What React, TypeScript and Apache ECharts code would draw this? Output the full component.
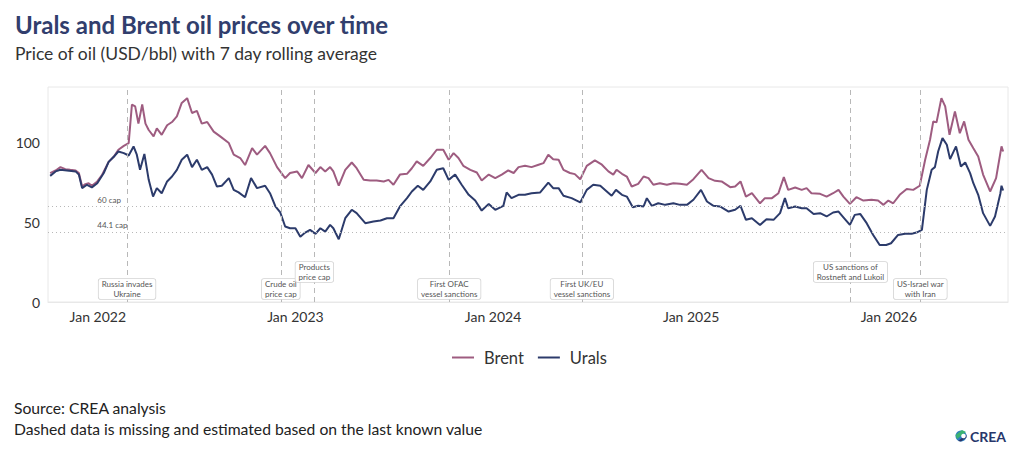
import React, { useEffect, useRef } from "react";
import * as echarts from "echarts";

const FONT = 'Lato, "Noto Sans", sans-serif';

const TITLE = "Urals and Brent oil prices over time";
const SUBTITLE = "Price of oil (USD/bbl) with 7 day rolling average";
const SOURCE = "Source: CREA analysis";
const NOTE = "Dashed data is missing and estimated based on the last known value";

const seriesNames = ["Brent", "Urals"];
const seriesColors = ["#9e5c80", "#2c3b6b"];

const brentDates = [
  "2021-10-05","2021-10-15","2021-10-24","2021-11-02","2021-11-11","2021-11-21","2021-11-27","2021-12-03","2021-12-09","2021-12-15",
  "2021-12-21","2021-12-31","2022-01-09","2022-01-21","2022-01-30","2022-02-08","2022-02-18","2022-02-27","2022-03-05","2022-03-11",
  "2022-03-17","2022-03-24","2022-03-30","2022-04-05","2022-04-14","2022-04-20","2022-04-29","2022-05-09","2022-05-18","2022-05-27",
  "2022-06-05","2022-06-15","2022-06-24","2022-07-03","2022-07-12","2022-07-22","2022-08-03","2022-08-15","2022-08-31","2022-09-09",
  "2022-09-21","2022-09-30","2022-10-13","2022-10-22","2022-11-06","2022-11-15","2022-11-28","2022-12-13","2022-12-22","2023-01-04",
  "2023-01-13","2023-01-25","2023-02-07","2023-02-16","2023-02-25","2023-03-06","2023-03-12","2023-03-22","2023-04-03","2023-04-15",
  "2023-04-24","2023-05-07","2023-05-19","2023-05-31","2023-06-13","2023-06-22","2023-07-01","2023-07-13","2023-07-26","2023-08-04",
  "2023-08-13","2023-08-25","2023-09-07","2023-09-19","2023-10-01","2023-10-11","2023-10-20","2023-10-29","2023-11-07","2023-11-20",
  "2023-12-02","2023-12-11","2023-12-24","2024-01-05","2024-01-17","2024-01-29","2024-02-08","2024-02-17","2024-02-29","2024-03-12",
  "2024-03-25","2024-04-03","2024-04-12","2024-04-21","2024-05-01","2024-05-10","2024-05-22","2024-05-31","2024-06-10","2024-06-22",
  "2024-07-07","2024-07-20","2024-08-01","2024-08-10","2024-08-16","2024-08-26","2024-09-04","2024-09-13","2024-09-25","2024-10-05",
  "2024-10-14","2024-10-23","2024-11-04","2024-11-17","2024-11-29","2024-12-11","2024-12-24","2025-01-05","2025-01-20","2025-02-02",
  "2025-02-14","2025-02-26","2025-03-14","2025-03-23","2025-04-02","2025-04-12","2025-04-23","2025-05-08","2025-05-17","2025-05-30",
  "2025-06-11","2025-06-21","2025-06-29","2025-07-12","2025-07-24","2025-08-02","2025-08-11","2025-08-27","2025-09-08","2025-09-20",
  "2025-09-30","2025-10-09","2025-10-21","2025-11-02","2025-11-15","2025-11-30","2025-12-12","2025-12-22","2025-12-31","2026-01-09",
  "2026-01-21","2026-02-03","2026-02-15","2026-02-27","2026-03-09","2026-03-18","2026-03-24","2026-03-30","2026-04-08","2026-04-15",
  "2026-04-23","2026-05-03","2026-05-12","2026-05-20","2026-05-28","2026-06-06","2026-06-15","2026-06-24","2026-07-07","2026-07-18",
  "2026-07-28","2026-07-31"
];
const brentValues = [
  80.9,82.6,84.7,83.4,83.0,82.6,81.0,72.5,74.0,74.6,
  73.0,75.7,79.9,88.0,91.0,95.6,98.0,99.8,124.0,122.8,
  112.0,124.0,112.0,108.0,104.0,109.0,105.0,111.0,113.0,116.6,
  125.0,128.0,118.7,120.0,112.0,113.0,107.0,104.0,99.8,92.5,
  90.4,86.0,96.6,92.5,98.0,93.5,84.7,77.8,81.0,82.0,
  77.8,86.0,81.0,84.7,82.0,84.7,82.0,73.0,83.0,87.6,
  84.0,76.7,76.3,76.3,75.7,76.7,73.6,80.0,80.5,84.0,
  88.3,85.5,90.4,95.6,95.6,89.3,93.5,90.4,85.5,83.0,
  81.3,76.3,80.0,77.8,80.0,82.6,81.0,84.7,85.5,84.7,
  86.2,87.2,92.5,89.7,89.3,83.0,81.0,80.3,77.1,85.5,
  88.9,86.2,82.0,80.0,83.0,80.5,78.8,72.5,74.2,78.8,
  77.8,73.6,74.6,73.6,74.6,74.2,73.6,77.1,83.0,77.8,
  76.1,75.7,72.1,72.5,75.7,66.2,68.3,62.0,65.2,65.2,
  68.3,78.4,70.4,71.9,70.4,71.5,68.3,67.9,66.2,68.3,
  70.4,66.2,61.6,65.8,63.7,64.2,63.7,61.0,63.7,62.0,
  67.3,70.9,70.4,73.0,89.3,101.9,113.4,112.8,128.0,122.8,
  105.0,119.7,106.0,113.4,101.9,96.6,91.4,80.0,69.4,77.8,
  97.7,94.5
];

const uralsDates = [
  "2021-10-05","2021-10-15","2021-10-24","2021-11-05","2021-11-21","2021-11-27","2021-12-03","2021-12-12","2021-12-21","2021-12-31",
  "2022-01-12","2022-01-21","2022-01-30","2022-02-08","2022-02-18","2022-02-27","2022-03-08","2022-03-14","2022-03-20","2022-03-28",
  "2022-04-05","2022-04-13","2022-04-20","2022-04-29","2022-05-09","2022-05-18","2022-05-27","2022-06-05","2022-06-15","2022-06-24",
  "2022-07-03","2022-07-12","2022-07-22","2022-07-31","2022-08-09","2022-08-18","2022-08-31","2022-09-09","2022-09-18","2022-09-30",
  "2022-10-11","2022-10-22","2022-11-06","2022-11-15","2022-11-25","2022-12-04","2022-12-13","2022-12-22","2023-01-01","2023-01-10",
  "2023-01-19","2023-01-28","2023-02-07","2023-02-16","2023-02-25","2023-03-06","2023-03-12","2023-03-22","2023-04-03","2023-04-15",
  "2023-04-24","2023-05-10","2023-05-25","2023-06-07","2023-06-19","2023-07-01","2023-07-13","2023-07-26","2023-08-04","2023-08-15",
  "2023-08-25","2023-09-07","2023-09-19","2023-10-01","2023-10-11","2023-10-23","2023-11-04","2023-11-17","2023-11-29","2023-12-11",
  "2023-12-24","2024-01-05","2024-01-20","2024-01-26","2024-02-04","2024-02-17","2024-02-29","2024-03-12","2024-03-28","2024-04-12",
  "2024-04-21","2024-05-01","2024-05-10","2024-05-25","2024-06-10","2024-06-22","2024-07-04","2024-07-17","2024-07-29","2024-08-07",
  "2024-08-15","2024-08-26","2024-09-04","2024-09-15","2024-09-25","2024-10-05","2024-10-11","2024-10-20","2024-11-01","2024-11-14",
  "2024-11-29","2024-12-11","2024-12-24","2025-01-05","2025-01-19","2025-01-30","2025-02-11","2025-02-23","2025-03-11","2025-03-23",
  "2025-04-02","2025-04-12","2025-04-23","2025-05-08","2025-05-20","2025-06-02","2025-06-14","2025-06-23","2025-06-29","2025-07-12",
  "2025-07-24","2025-08-02","2025-08-15","2025-08-27","2025-09-08","2025-09-20","2025-09-30","2025-10-09","2025-10-21","2025-10-30",
  "2025-11-09","2025-11-21","2025-12-03","2025-12-15","2025-12-27","2026-01-05","2026-01-18","2026-01-31","2026-02-12","2026-02-21",
  "2026-03-03","2026-03-12","2026-03-21","2026-03-27","2026-04-02","2026-04-10","2026-04-18","2026-04-24","2026-05-05","2026-05-14",
  "2026-05-22","2026-05-31","2026-06-06","2026-06-15","2026-06-24","2026-07-07","2026-07-16","2026-07-26","2026-07-28","2026-07-31"
];
const uralsValues = [
  79.2,82.0,83.0,82.6,82.0,80.0,71.5,73.6,72.0,74.6,
  81.0,88.0,91.0,94.5,93.5,92.0,97.7,92.5,83.0,93.0,
  76.7,66.2,71.5,68.3,75.7,78.8,83.0,89.3,92.5,84.7,
  89.3,83.0,84.7,80.0,72.5,73.0,77.8,70.4,68.8,65.8,
  77.8,71.5,73.0,68.3,60.0,56.2,47.4,46.3,46.3,41.0,
  43.6,45.3,42.8,46.3,44.2,48.4,46.3,39.4,52.6,57.9,
  55.8,49.5,50.5,51.2,52.6,52.6,60.0,65.2,69.4,73.0,
  70.4,75.7,83.0,84.0,76.7,80.0,73.6,67.3,63.7,57.4,
  61.6,57.9,60.4,68.8,65.2,67.3,67.3,68.3,68.8,75.0,
  71.5,71.5,66.7,65.2,62.5,70.4,73.6,73.0,69.4,66.7,
  70.4,67.3,66.2,59.5,60.4,60.0,65.2,60.4,62.0,61.0,
  62.0,61.0,61.0,64.2,70.4,63.1,60.4,60.0,56.8,57.9,
  60.4,51.6,52.6,48.4,52.0,51.6,55.8,65.2,58.9,60.0,
  58.9,58.9,55.3,55.8,53.7,56.2,56.8,53.2,48.4,54.7,
  55.3,49.5,42.1,35.8,35.8,36.9,42.1,42.8,42.8,43.6,
  45.3,70.4,83.0,84.7,94.5,102.9,98.7,89.7,97.7,85.1,
  87.6,80.9,74.6,67.3,55.8,47.8,53.7,68.3,73.0,70.0
];

const eventDates = ["2022-02-24","2022-12-05","2023-02-05","2023-10-12","2024-06-13","2025-10-22","2026-02-28"];
const eventLabels = [
  "Russia invades\nUkraine",
  "Crude oil\nprice cap",
  "Products\nprice cap",
  "First OFAC\nvessel sanctions",
  "First UK/EU\nvessel sanctions",
  "US sanctions of\nRostneft and Lukoil",
  "US-Israel war\nwith Iran"
];
// vertical slot of each label box (value on the y scale)
const eventLabelLevels = [8.2, 8.2, 18.8, 8.2, 8.2, 18.8, 8.2];

const capValues = [60, 44.1];
const capLabels = ["60 cap", "44.1 cap"];
const capLabelDate = "2022-01-01";

const xMin = "2021-10-01";
const xMax = "2026-08-09";
const yMin = 0;
const yMax = 135;
const yInterval = 50;

const YEAR_MS = 365 * 24 * 3600 * 1000;

export default function App() {
  const ref = useRef<HTMLDivElement>(null);

  useEffect(() => {
    if (!ref.current) return;
    const chart = echarts.init(ref.current, null, { renderer: "svg" });

    const brentData = brentDates.map((d, i) => [d, brentValues[i]]);
    const uralsData = uralsDates.map((d, i) => [d, uralsValues[i]]);

    const option: any = {
      animation: false,
      backgroundColor: "#ffffff",
      textStyle: { fontFamily: FONT },
      grid: {
        left: 48,
        right: 16,
        top: 87,
        bottom: 153,
        show: true,
        borderColor: "#e8e8e8",
        borderWidth: 1,
        backgroundColor: "transparent",
      },
      legend: {
        left: 447,
        top: 344,
        icon: "rect",
        itemWidth: 22,
        itemHeight: 2,
        itemGap: 14,
        data: seriesNames,
        textStyle: { fontSize: 16.5, color: "#333", fontFamily: FONT, padding: [0, 0, 0, 5] },
      },
      xAxis: {
        type: "time",
        min: xMin,
        max: xMax,
        minInterval: YEAR_MS,
        maxInterval: YEAR_MS,
        axisLine: { show: true, lineStyle: { color: "#e8e8e8" } },
        axisTick: { show: false },
        splitLine: { show: false },
        axisLabel: {
          fontSize: 14,
          color: "#333",
          fontFamily: FONT,
          margin: 7,
          formatter: (v: number) => {
            const d = new Date(v);
            return d.getMonth() === 0 && d.getDate() === 1 ? "Jan " + d.getFullYear() : "";
          },
        },
      },
      yAxis: {
        type: "value",
        min: yMin,
        max: yMax,
        interval: yInterval,
        axisLine: { show: false },
        axisTick: { show: false },
        splitLine: { show: false },
        axisLabel: { fontSize: 14, color: "#333", fontFamily: FONT, showMaxLabel: false, margin: 8 },
      },
      series: [
        {
          name: seriesNames[0],
          type: "line",
          data: brentData,
          symbol: "none",
          showSymbol: false,
          lineStyle: { width: 2, color: seriesColors[0] },
          itemStyle: { color: seriesColors[0] },
          silent: true,
          markLine: {
            silent: true,
            symbol: ["none", "none"],
            label: { show: false },
            data: [
              ...eventDates.map((d) => ({
                xAxis: d,
                lineStyle: { color: "#b8b8b8", type: [5, 4], width: 1 },
              })),
              ...capValues.map((v) => ({
                yAxis: v,
                lineStyle: { color: "#b8b8b8", type: [1, 3], width: 1 },
              })),
            ],
          },
          markPoint: {
            silent: true,
            symbol: "circle",
            symbolSize: 1,
            itemStyle: { color: "rgba(0,0,0,0)" },
            data: capValues.map((v, i) => ({
              coord: [capLabelDate, v],
              name: capLabels[i],
              label: {
                show: true,
                position: [0, -11],
                formatter: "{b}",
                fontSize: 8,
                lineHeight: 10,
                color: "#555",
                fontFamily: FONT,
              },
            })),
          },
        },
        {
          name: seriesNames[1],
          type: "line",
          data: uralsData,
          symbol: "none",
          showSymbol: false,
          lineStyle: { width: 2, color: seriesColors[1] },
          itemStyle: { color: seriesColors[1] },
          silent: true,
          markPoint: {
            silent: true,
            symbol: "circle",
            symbolSize: 1,
            itemStyle: { color: "rgba(0,0,0,0)" },
            label: {
              show: true,
              position: "inside",
              formatter: "{b}",
              fontSize: 8,
              lineHeight: 9.5,
              color: "#555",
              fontFamily: FONT,
              backgroundColor: "#ffffff",
              borderColor: "#d4d4d4",
              borderWidth: 0.8,
              borderRadius: 2,
              padding: [1, 3, 0, 3],
              align: "center",
            },
            data: eventDates.map((d, i) => ({
              coord: [d, eventLabelLevels[i]],
              name: eventLabels[i],
            })),
          },
        },
      ],
      graphic: [
        {
          type: "text",
          x: 15,
          y: 24,
          silent: true,
          style: { text: TITLE, fontSize: 24, fontWeight: "bold", fontFamily: FONT, fill: "#313e6d", verticalAlign: "middle" },
        },
        {
          type: "text",
          x: 15,
          y: 53,
          silent: true,
          style: { text: SUBTITLE, fontSize: 17.5, fontFamily: FONT, fill: "#333", verticalAlign: "middle" },
        },
        {
          type: "text",
          x: 14,
          y: 408,
          silent: true,
          style: { text: SOURCE, fontSize: 15.7, fontFamily: FONT, fill: "#222", verticalAlign: "middle" },
        },
        {
          type: "text",
          x: 14,
          y: 429,
          silent: true,
          style: { text: NOTE, fontSize: 15.7, fontFamily: FONT, fill: "#222", verticalAlign: "middle" },
        },
        {
          type: "group",
          x: 961,
          y: 436,
          silent: true,
          children: [
            { type: "circle", shape: { cx: 0, cy: 0, r: 5.5 }, style: { fill: "#2f7fc1" } },
            { type: "polygon", shape: { points: [[-5.5, -1], [1, -6], [5, -4], [-4, 3]] }, style: { fill: "#3bb273" } },
            { type: "polygon", shape: { points: [[-3, 5], [5.5, -1.5], [5.5, 1.5], [0, 5.5]] }, style: { fill: "#27366b" } },
            { type: "circle", shape: { cx: 2.5, cy: 0, r: 2.3 }, style: { fill: "#ffffff" } },
          ],
        },
        {
          type: "text",
          x: 970,
          y: 436,
          silent: true,
          style: { text: "CREA", fontSize: 14, fontWeight: "bold", fontFamily: FONT, fill: "#27366b", verticalAlign: "middle" },
        },
      ],
    };

    chart.setOption(option);
    return () => chart.dispose();
  }, []);

  return (
    <div
      ref={ref}
      style={{ position: "fixed", left: 0, top: 0, width: 1024, height: 455, background: "#fff" }}
    />
  );
}
